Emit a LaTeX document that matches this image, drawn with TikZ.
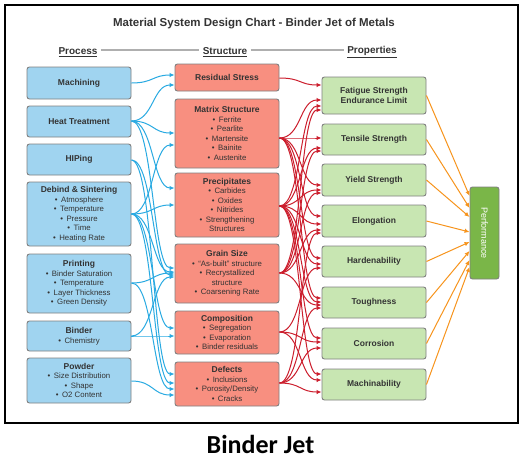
\documentclass[tikz,border=0pt]{standalone}
\usepackage{fontspec}
\usepackage{graphicx}
\setmainfont{Liberation Sans}
\newfontfamily\capfont{Carlito}
\usetikzlibrary{arrows.meta}
\definecolor{procfill}{RGB}{160,212,240}
\definecolor{strucfill}{RGB}{248,143,128}
\definecolor{propfill}{RGB}{200,230,178}
\definecolor{perffill}{RGB}{122,182,72}
\definecolor{boxedge}{RGB}{128,128,128}
\definecolor{txt}{RGB}{51,51,51}
\definecolor{arrblue}{RGB}{41,170,226}
\definecolor{arrred}{RGB}{204,30,45}
\definecolor{arrorange}{RGB}{247,148,29}
\definecolor{hdline}{RGB}{175,175,175}
\newcommand\hd{\fontsize{8.5}{10}\selectfont\bfseries}
\newcommand\itm{\textbullet\hspace{3.5pt}}
\newcommand\conn[5]{\draw[#1] (#2.east |- 0,#3) .. controls +(22,0) and +(-22,0) .. (#4.west |- 0,#5);}
\tikzset{
  box/.style={draw=boxedge, line width=0.9pt, rounded corners=2.5pt, align=center, text=txt,
    inner sep=1pt, minimum width=104pt, font=\fontsize{7.8}{9.5}\selectfont},
  proc/.style={box, fill=procfill},
  struc/.style={box, fill=strucfill},
  prop/.style={box, fill=propfill},
  perfbox/.style={draw=boxedge, line width=0.9pt, rounded corners=2.5pt, fill=perffill, text=white,
    minimum width=29pt, minimum height=92pt, inner sep=0pt, font=\fontsize{9}{10}\selectfont},
  blu/.style={draw=arrblue, line width=1pt, -{Latex[length=5pt,width=4.5pt]}},
  redc/.style={draw=arrred, line width=1pt, -{Latex[length=5pt,width=4.5pt]}},
  org/.style={draw=arrorange, line width=1pt, -{Latex[length=5pt,width=4.5pt]}},
  hdr/.style={font=\fontsize{10}{12}\selectfont\bfseries, text=txt},
}
\begin{document}
\begin{tikzpicture}[x=1pt,y=-1pt]
\useasboundingbox (0,0) rectangle (526,461);
\fill[white] (0,0) rectangle (526,461);
\draw[line width=1.2pt] (5,5) rectangle (518,423);

\node[font=\fontsize{11.5}{13}\selectfont\bfseries, text=txt] (title) at (254,24) {Material System Design Chart - Binder Jet of Metals};
\node[hdr] (hproc) at (78,52) {\underline{Process}};
\node[hdr] (hstruc) at (225,52) {\underline{Structure}};
\node[hdr] (hprop) at (372,52) {\underline{Properties}};
\draw[hdline, line width=1.2pt] (hproc.east |- 0,50) -- (hstruc.west |- 0,50);
\draw[hdline, line width=1.2pt] (hstruc.east |- 0,50) -- (hprop.west |- 0,50);

% Process
\node[proc, minimum height=32pt] (mach) at (79,83) {\hd Machining};
\node[proc, minimum height=31pt] (heat) at (79,121.5) {\hd Heat Treatment};
\node[proc, minimum height=31pt] (hip) at (79,159.5) {\hd HIPing};
\node[proc, minimum height=64pt] (deb) at (79,214) {{\hd Debind \& Sintering}\\\itm Atmosphere\\\itm Temperature\\\itm Pressure\\\itm Time\\\itm Heating Rate};
\node[proc, minimum height=59pt] (print) at (79,283.5) {{\hd Printing}\\\itm Binder Saturation\\\itm Temperature\\\itm Layer Thickness\\\itm Green Density};
\node[proc, minimum height=30pt] (binder) at (79,336) {{\hd Binder}\\\itm Chemistry};
\node[proc, minimum height=45pt] (powder) at (79,380.5) {{\hd Powder}\\\itm Size Distribution\\\itm Shape\\\itm O2 Content};

% Structure
\node[struc, minimum height=27pt] (rs) at (227,77.5) {\hd Residual Stress};
\node[struc, minimum height=69pt] (mat) at (227,133.5) {{\hd Matrix Structure}\\\itm Ferrite\\\itm Pearlite\\\itm Martensite\\\itm Bainite\\\itm Austenite};
\node[struc, minimum height=64pt] (pre) at (227,205) {{\hd Precipitates}\\\itm Carbides\\\itm Oxides\\\itm Nitrides\\\itm Strengthening\\Structures};
\node[struc, minimum height=59pt] (grain) at (227,273.5) {{\hd Grain Size}\\\itm ``As-built'' structure\\\itm Recrystallized\\structure\\\itm Coarsening Rate};
\node[struc, minimum height=43pt] (comp) at (227,332.5) {{\hd Composition}\\\itm Segregation\\\itm Evaporation\\\itm Binder residuals};
\node[struc, minimum height=44pt] (def) at (227,384) {{\hd Defects}\\\itm Inclusions\\\itm Porosity/Density\\\itm Cracks};

% Properties
\node[prop, minimum height=37pt] (fat) at (374,95.5) {\hd Fatigue Strength\\\hd Endurance Limit};
\node[prop, minimum height=31pt] (tens) at (374,139.5) {\hd Tensile Strength};
\node[prop, minimum height=32pt] (yld) at (374,180) {\hd Yield Strength};
\node[prop, minimum height=32pt] (elo) at (374,221) {\hd Elongation};
\node[prop, minimum height=31pt] (hard) at (374,261.5) {\hd Hardenability};
\node[prop, minimum height=31pt] (tough) at (374,302.5) {\hd Toughness};
\node[prop, minimum height=31pt] (corr) at (374,343.5) {\hd Corrosion};
\node[prop, minimum height=31pt] (mach2) at (374,384.5) {\hd Machinability};

% Performance
\node[perfbox] (perf) at (484.5,233) {\rotatebox{-90}{Performance}};

% Blue connectors
\conn{blu}{mach}{83}{rs}{75}
\conn{blu}{heat}{121}{rs}{85}
\conn{blu}{heat}{121}{mat}{133}
\conn{blu}{heat}{121}{pre}{188}
\conn{blu}{heat}{121}{grain}{268}
\conn{blu}{hip}{160}{grain}{275}
\conn{blu}{hip}{160}{def}{374}
\conn{blu}{deb}{214}{mat}{145}
\conn{blu}{deb}{214}{pre}{205}
\conn{blu}{deb}{214}{grain}{272}
\conn{blu}{deb}{214}{comp}{328}
\conn{blu}{deb}{214}{def}{383}
\conn{blu}{print}{283}{grain}{273}
\conn{blu}{print}{283}{def}{389}
\conn{blu}{binder}{336}{grain}{277}
\conn{blu}{binder}{336}{comp}{336}
\conn{blu}{powder}{381}{def}{395}

% Red connectors
\conn{redc}{rs}{78}{fat}{85}
\conn{redc}{mat}{138}{fat}{100}
\conn{redc}{mat}{138}{tens}{138}
\conn{redc}{mat}{138}{yld}{185}
\conn{redc}{mat}{138}{elo}{216}
\conn{redc}{mat}{138}{hard}{258}
\conn{redc}{mat}{138}{tough}{298}
\conn{redc}{pre}{206}{fat}{106}
\conn{redc}{pre}{206}{tens}{148}
\conn{redc}{pre}{206}{yld}{190}
\conn{redc}{pre}{206}{elo}{224}
\conn{redc}{pre}{206}{hard}{264}
\conn{redc}{pre}{206}{tough}{302}
\conn{redc}{pre}{206}{corr}{338}
\conn{redc}{pre}{206}{mach2}{374}
\conn{redc}{grain}{273}{fat}{110}
\conn{redc}{grain}{273}{tens}{151}
\conn{redc}{grain}{273}{yld}{193}
\conn{redc}{grain}{273}{elo}{230}
\conn{redc}{grain}{273}{tough}{305}
\conn{redc}{comp}{332}{hard}{268}
\conn{redc}{comp}{332}{corr}{342}
\conn{redc}{comp}{332}{mach2}{380}
\conn{redc}{def}{383}{elo}{233}
\conn{redc}{def}{383}{tough}{308}
\conn{redc}{def}{383}{corr}{348}
\conn{redc}{def}{383}{mach2}{392}

% Orange connectors
\draw[org] (fat.east) -- (perf.west |- 0,196);
\draw[org] (tens.east) -- (perf.west |- 0,208);
\draw[org] (yld.east) -- (perf.west |- 0,217);
\draw[org] (elo.east) -- (perf.west |- 0,232);
\draw[org] (hard.east) -- (perf.west |- 0,242);
\draw[org] (tough.east) -- (perf.west |- 0,251);
\draw[org] (corr.east) -- (perf.west |- 0,260);
\draw[org] (mach2.east) -- (perf.west |- 0,267);

% Caption
\node[anchor=base, font=\capfont\bfseries\fontsize{26}{30}\selectfont] (cap) at (260.5,453) {Binder Jet};
\end{tikzpicture}
\end{document}
